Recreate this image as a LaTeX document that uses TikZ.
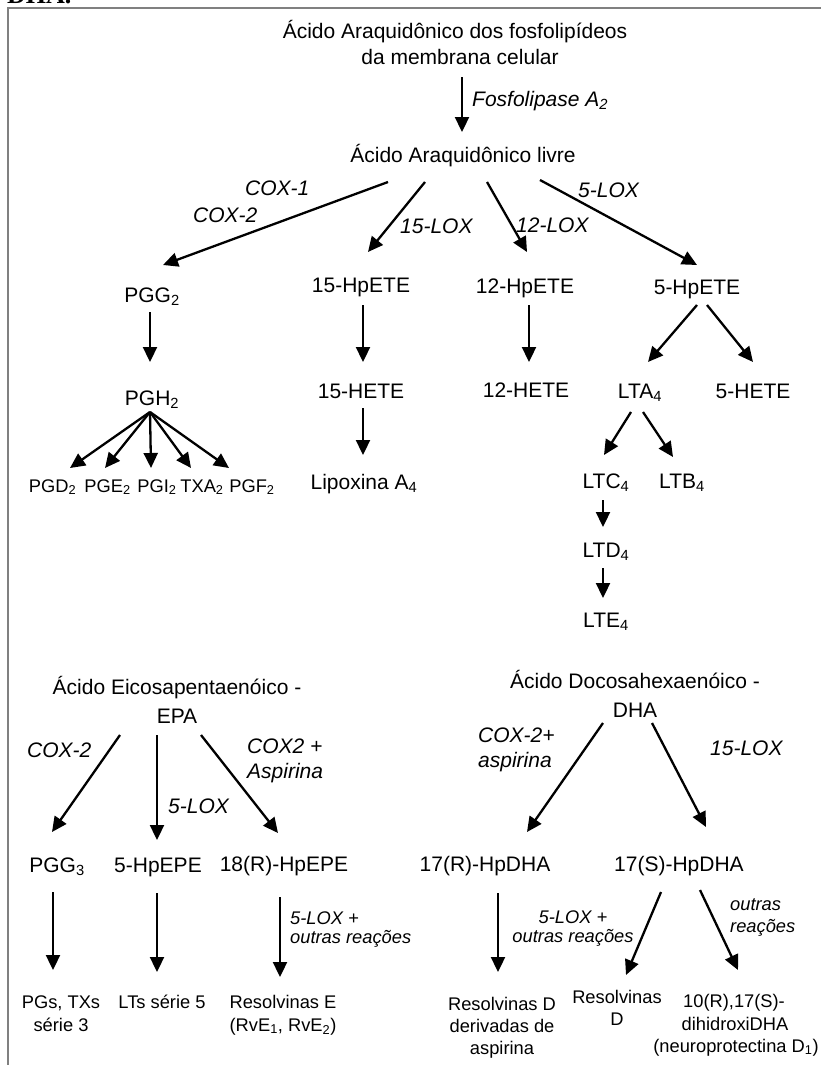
\documentclass[tikz,border=0pt]{standalone}
\usepackage{fontspec}
\setmainfont{Liberation Sans}
\newfontfamily\serifbold{Liberation Serif}
\usetikzlibrary{arrows.meta,calc}
\newcommand\sbs[1]{\textsubscript{#1}}
\tikzset{
 big/.style={font=\fontsize{21}{25}\selectfont, inner sep=0pt, anchor=base},
 bigit/.style={font=\fontsize{21}{25}\selectfont\itshape, inner sep=0pt, anchor=base west},
 sm/.style={font=\fontsize{18.3}{22}\selectfont, inner sep=0pt, anchor=base},
 smit/.style={font=\fontsize{18.3}{22}\selectfont\itshape, inner sep=0pt, anchor=base west},
 arr/.style={line width=2.3pt, -{Triangle[length=15pt,width=14pt]}},
 frameline/.style={draw=black!50, line width=2pt}
}
\begin{document}
\begin{tikzpicture}[x=1pt,y=-1pt]
\useasboundingbox (0,0) rectangle (821,1065);
% frame
\draw[frameline] (821,8) -- (8,8) -- (8,1065);
\node[inner sep=0pt, anchor=base west, font=\fontsize{26}{30}\selectfont\serifbold\bfseries] (dhatop) at (7,4) {DHA.};
% arachidonic acid
\node[big] (t1) at (455,38) {Ácido Araquidônico dos fosfolipídeos};
\node[big] (t2) at (460,65) {da membrana celular};
\node[bigit] (fosfo) at (472,106) {Fosfolipase A\sbs{2}};
\node[big] (livre) at (463,162) {Ácido Araquidônico livre};
\node[bigit] (cox1) at (245,195) {COX-1};
\node[bigit] (cox2) at (193,222) {COX-2};
\node[bigit] (lox15) at (400,233) {15-LOX};
\node[bigit] (lox12) at (516,232) {12-LOX};
\node[bigit] (lox5) at (578,197) {5-LOX};
\node[big] (pgg2) at (152,302) {PGG\sbs{2}};
\node[big] (hp15) at (361,292) {15-HpETE};
\node[big] (hp12) at (525,293) {12-HpETE};
\node[big] (hp5) at (697,294) {5-HpETE};
\node[big] (pgh2) at (152,405) {PGH\sbs{2}};
\node[big] (hete15) at (361,398) {15-HETE};
\node[big] (hete12) at (526,397) {12-HETE};
\node[big] (lta4) at (640,398) {LTA\sbs{4}};
\node[big] (hete5) at (753,398) {5-HETE};
\node[sm] (pgd2) at (52.5,492) {PGD\sbs{2}};
\node[sm] (pge2) at (107.5,492) {PGE\sbs{2}};
\node[sm] (pgi2) at (157,492) {PGI\sbs{2}};
\node[sm] (txa2) at (202,492) {TXA\sbs{2}};
\node[sm] (pgf2) at (252,492) {PGF\sbs{2}};
\node[big] (lipox) at (364,489) {Lipoxina A\sbs{4}};
\node[big] (ltc4) at (606,488) {LTC\sbs{4}};
\node[big] (ltb4) at (682,488) {LTB\sbs{4}};
\node[big] (ltd4) at (606,557) {LTD\sbs{4}};
\node[big] (lte4) at (606,627) {LTE\sbs{4}};
\draw[arr] ($(t2.base)+(2,12)$) -- ($(livre.base)+(-1,-30)$);
\draw[arr] ($(livre.base)+(-75,20)$) -- ($(pgg2.base)+(11,-37)$);
\draw[arr] ($(livre.base)+(-38,20)$) -- ($(hp15.base)+(7,-40)$);
\draw[arr] ($(livre.base)+(24,20)$) -- ($(hp12.base)+(2,-41)$);
\draw[arr] ($(livre.base)+(77,18)$) -- ($(hp5.base)+(0,-29)$);
\draw[arr] ($(pgg2.base)+(-2,10)$) -- ($(pgh2.base)+(-2,-43)$);
\draw[arr] ($(hp15.base)+(2,13)$) -- ($(hete15.base)+(2,-36)$);
\draw[arr] ($(hete15.base)+(2,10)$) -- ($(lipox.base)+(-1,-34)$);
\draw[arr] ($(hp12.base)+(4,12)$) -- ($(hete12.base)+(3,-35)$);
\draw[arr] ($(hp5.base)+(0,11)$) -- ($(lta4.base)+(8,-36)$);
\draw[arr] ($(hp5.base)+(10,11)$) -- ($(hete5.base)+(0,-36)$);
\draw[arr] ($(pgh2.base)+(-2,7)$) -- ($(pgd2.base)+(17.5,-24)$);
\draw[arr] ($(pgh2.base)+(-2,7)$) -- ($(pge2.base)+(-2.5,-24)$);
\draw[arr] ($(pgh2.base)+(-2,7)$) -- ($(pgi2.base)+(-6,-24)$);
\draw[arr] ($(pgh2.base)+(-2,7)$) -- ($(txa2.base)+(-11,-24)$);
\draw[arr] ($(pgh2.base)+(-2,7)$) -- ($(pgf2.base)+(-23,-24)$);
\draw[arr] ($(lta4.base)+(-9,14)$) -- ($(ltc4.base)+(-2,-33)$);
\draw[arr] ($(lta4.base)+(3,14)$) -- ($(ltb4.base)+(-9,-31)$);
\draw[arr] ($(ltc4.base)+(-3,12)$) -- ($(ltd4.base)+(-3,-30)$);
\draw[arr] ($(ltd4.base)+(-3,11)$) -- ($(lte4.base)+(-3,-29)$);
% EPA
\node[big] (epa1) at (177,694) {Ácido Eicosapentaenóico -};
\node[big] (epa2) at (177,723) {EPA};
\node[bigit] (cox2e) at (27,757) {COX-2};
\node[bigit] (lox5e) at (168,813) {5-LOX};
\node[bigit] (cox2a1) at (247,753) {COX2 +};
\node[bigit] (cox2a2) at (247,778) {Aspirina};
\node[big] (pgg3) at (57,872) {PGG\sbs{3}};
\node[big] (hpepe5) at (158,872) {5-HpEPE};
\node[big] (hpepe18) at (284,871) {18(R)-HpEPE};
\node[smit] (e5lox) at (290,924) {5-LOX +};
\node[smit] (eoutras) at (290,943) {outras reações};
\node[sm] (pgs1) at (61,1008) {PGs, TXs};
\node[sm] (pgs2) at (61,1031) {série 3};
\node[sm] (lts5) at (162,1008) {LTs série 5};
\node[sm] (rve1) at (283,1008) {Resolvinas E};
\node[sm] (rve2) at (283,1031) {(RvE\sbs{1}, RvE\sbs{2})};
\draw[arr] ($(epa2.base)+(-57,12)$) -- ($(pgg3.base)+(-5,-40)$);
\draw[arr] ($(epa2.base)+(-20,12)$) -- ($(hpepe5.base)+(-1,-32)$);
\draw[arr] ($(epa2.base)+(24,12)$) -- ($(hpepe18.base)+(-6,-38)$);
\draw[arr] ($(pgg3.base)+(-4,20)$) -- ($(pgs1.base)+(-8,-38)$);
\draw[arr] ($(hpepe5.base)+(-1,21)$) -- ($(lts5.base)+(-5,-36)$);
\draw[arr] ($(hpepe18.base)+(-4,26)$) -- ($(rve1.base)+(-3,-31)$);
% DHA
\node[big] (dha1) at (635,688) {Ácido Docosahexaenóico -};
\node[big] (dha2) at (635,717) {DHA};
\node[bigit] (coxasp1) at (478,742) {COX-2+};
\node[bigit] (coxasp2) at (478,767) {aspirina};
\node[bigit] (lox15d) at (710,755) {15-LOX};
\node[big] (hpr) at (485,871) {17(R)-HpDHA};
\node[big] (hps) at (679,871) {17(S)-HpDHA};
\node[smit, anchor=base] (d5lox) at (573,923) {5-LOX +};
\node[smit, anchor=base] (doutras) at (573,942) {outras reações};
\node[smit] (outr1) at (730,910) {outras};
\node[smit] (outr2) at (730,932) {reações};
\node[sm] (rvd1) at (502,1010) {Resolvinas D};
\node[sm] (rvd2) at (502,1032) {derivadas de};
\node[sm] (rvd3) at (502,1054) {aspirina};
\node[sm] (rvd) at (617,1003) {Resolvinas};
\node[sm] (rvdD) at (617,1025) {D};
\node[sm] (np1) at (734,1007) {10(R),17(S)-};
\node[sm] (np2) at (735,1030) {dihidroxiDHA};
\node[sm] (np3) at (736,1052) {(neuroprotectina D\sbs{1})};
\draw[arr] ($(dha2.base)+(-32,6)$) -- ($(hpr.base)+(42,-39)$);
\draw[arr] ($(dha2.base)+(17,6)$) -- ($(hps.base)+(27,-44)$);
\draw[arr] ($(hpr.base)+(13,22)$) -- ($(rvd1.base)+(-4,-38)$);
\draw[arr] ($(hps.base)+(-18,21)$) -- ($(rvd.base)+(9,-28)$);
\draw[arr] ($(hps.base)+(21,19)$) -- ($(np1.base)+(4,-37)$);
\end{tikzpicture}
\end{document}
